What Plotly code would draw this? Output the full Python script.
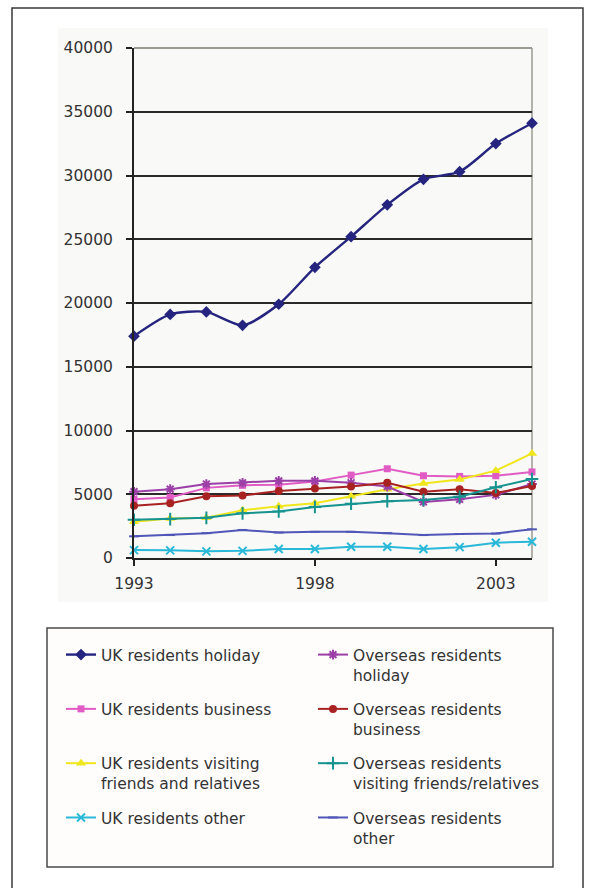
import plotly.graph_objects as go

# Trips by purpose, 1993-2004 (thousands)
years = list(range(1993, 2005))

uk_holiday = [17400, 19100, 19300, 18250, 19900, 22800, 25200, 27700, 29700, 30300, 32500, 34100]
uk_business = [4600, 4750, 5500, 5700, 5750, 6000, 6500, 7000, 6450, 6400, 6450, 6750]
uk_vfr = [2850, 3100, 3150, 3750, 4050, 4300, 4850, 5400, 5850, 6150, 6850, 8200]
uk_other = [620, 600, 520, 560, 700, 700, 880, 880, 700, 850, 1200, 1280]

os_holiday = [5200, 5400, 5800, 5900, 6050, 6050, 5900, 5600, 4400, 4600, 4950, 5800]
os_business = [4100, 4300, 4850, 4900, 5250, 5450, 5600, 5900, 5200, 5400, 5100, 5650]
os_vfr = [3000, 3050, 3150, 3500, 3650, 4000, 4250, 4450, 4550, 4800, 5550, 6200]
os_other = [1700, 1800, 1950, 2200, 2000, 2050, 2050, 1950, 1800, 1880, 1920, 2250]

y_ticks = [0, 5000, 10000, 15000, 20000, 25000, 30000, 35000, 40000]
x_ticks = [1993, 1998, 2003]

FONT = "DejaVu Sans"
TXT = "#333333"

series = [
    # name, values, colour, marker symbol, marker size, legend, smoothed
    ("UK residents holiday<br> ", uk_holiday, "#25257f", "diamond", 9, "legend", True),
    ("UK residents business<br> ", uk_business, "#e05cc4", "square", 7, "legend", False),
    ("UK residents visiting<br>friends and relatives", uk_vfr, "#f0e61e", "triangle-up", 9, "legend", False),
    ("UK residents other<br> ", uk_other, "#2ab8d8", "x-thin-open", 8, "legend", False),
    ("Overseas residents<br>holiday", os_holiday, "#9c40a8", "asterisk-open", 8, "legend2", False),
    ("Overseas residents<br>business", os_business, "#a82222", "circle", 8, "legend2", False),
    ("Overseas residents<br>visiting friends/relatives", os_vfr, "#179390", "cross-thin-open", 9, "legend2", False),
    ("Overseas residents<br>other", os_other, "#5157b8", "line-ew-open", 7, "legend2", False),
]

fig = go.Figure()
for i, (name, vals, col, sym, size, leg, smooth) in enumerate(series):
    is_open = sym.endswith("-open")
    line = dict(color=col, width=2.4 if smooth else 2)
    if smooth:
        line.update(shape="spline", smoothing=0.7)
    fig.add_trace(go.Scatter(
        x=years, y=vals, name=name, mode="lines+markers",
        line=line,
        marker=dict(symbol=sym, size=size, color=col,
                    line=dict(color=col, width=2 if is_open else 0)),
        cliponaxis=False, legend=leg, legendgroup=f"g{i}",
    ))

# pixel -> paper helpers for decoration placement
L, R, T, B = 134, 532, 48, 558
W, H = 590, 888


def px(x):
    return (x - L) / (R - L)


def py(y):
    return (B - y) / (B - T)


shapes = [
    # outer frame
    dict(type="rect", xref="paper", yref="paper", x0=px(12), x1=px(583), y0=py(8), y1=py(895),
         line=dict(color="#3a3a3a", width=1.5), fillcolor="rgba(0,0,0,0)", layer="below"),
    # chart area tint
    dict(type="rect", xref="paper", yref="paper", x0=px(58), x1=px(548), y0=py(28), y1=py(602),
         line=dict(width=0), fillcolor="#f9f9f7", layer="below"),
    # legend box
    dict(type="rect", xref="paper", yref="paper", x0=px(47), x1=px(553), y0=py(628), y1=py(867),
         line=dict(color="#4a4a4a", width=1.5), fillcolor="#fffdfc", layer="below"),
    # plot area border (top and right)
    dict(type="line", xref="paper", yref="paper", x0=0, x1=1, y0=1, y1=1,
         line=dict(color="#9a9a90", width=2), layer="above"),
    dict(type="line", xref="paper", yref="paper", x0=1, x1=1, y0=0, y1=1,
         line=dict(color="#9a9a90", width=1.5), layer="below"),
]

legend_common = dict(
    font=dict(family=FONT, size=15.5, color=TXT),
    bgcolor="rgba(0,0,0,0)", borderwidth=0,
    orientation="v", valign="top", xanchor="left", yanchor="top",
    tracegroupgap=11, itemwidth=30,
)

fig.update_layout(
    width=W, height=H,
    margin=dict(l=L, r=W - R, t=T, b=H - B),
    paper_bgcolor="white",
    plot_bgcolor="#f9f5cc",
    font=dict(family=FONT, size=15.5, color=TXT),
    shapes=shapes,
    legend=dict(x=px(61), y=py(638), **legend_common),
    legend2=dict(x=px(313), y=py(638), **legend_common),
    xaxis=dict(
        range=[1993, 2004], tickvals=x_ticks, ticktext=[str(v) for v in x_ticks],
        showgrid=False, zeroline=False,
        showline=True, linecolor="#222222", linewidth=2,
        ticks="outside", ticklen=6, tickwidth=2, tickcolor="#222222",
        ticklabelstandoff=4,
    ),
    yaxis=dict(
        range=[0, 40000], tickvals=y_ticks, tickformat="d",
        showgrid=True, gridcolor="#2a2a2a", gridwidth=1.6,
        zeroline=False,
        showline=True, linecolor="#222222", linewidth=2,
        ticks="outside", ticklen=6, tickwidth=2, tickcolor="#222222",
        ticklabelstandoff=10,
    ),
)

fig.write_html("out.html")
